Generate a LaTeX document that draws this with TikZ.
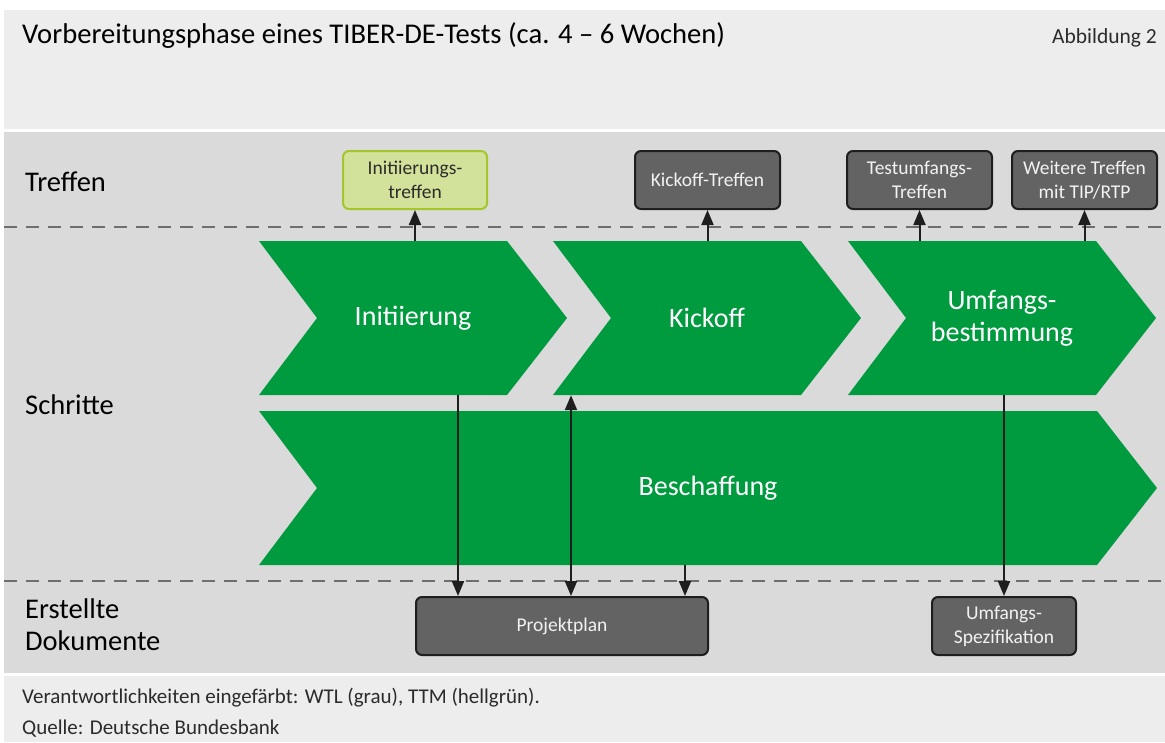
\documentclass[tikz,border=0pt]{standalone}
\usepackage{fontspec}
\setmainfont{Carlito}
\usetikzlibrary{arrows.meta}
\definecolor{hdrgray}{HTML}{EDEDED}
\definecolor{maingray}{HTML}{DADADA}
\definecolor{dashgray}{HTML}{6E6E6E}
\definecolor{chevgreen}{HTML}{009B3F}
\definecolor{boxdark}{HTML}{636363}
\definecolor{boxline}{HTML}{1E1E1E}
\definecolor{lgfill}{HTML}{D3E29B}
\definecolor{lgline}{HTML}{A3C72B}
\definecolor{txtdark}{HTML}{2B2B2B}
\tikzset{
  chevtext/.style={inner sep=0pt, text=white, align=center,
    font=\fontsize{28}{32}\selectfont},
  darkbox/.style={draw=boxline, fill=boxdark, line width=2pt, rounded corners=6pt,
    text=white!95!black, align=center, inner sep=0pt,
    font=\fontsize{19.5}{24}\selectfont},
  lightbox/.style={draw=lgline, fill=lgfill, line width=2pt, rounded corners=6pt,
    text=txtdark, align=center, inner sep=0pt,
    font=\fontsize{19.5}{24}\selectfont},
  rowlabel/.style={anchor=west, text=black, align=left, inner sep=0pt,
    font=\fontsize{28.5}{32}\selectfont},
  sepline/.style={dashgray, line width=2.6pt, dash pattern=on 13pt off 9pt},
  arr/.style={draw=boxline, line width=2pt, -{Triangle[length=15pt,width=12pt]}},
  arrboth/.style={draw=boxline, line width=2pt, {Triangle[length=15pt,width=12pt]}-{Triangle[length=15pt,width=12pt]}},
}
\begin{document}
\begin{tikzpicture}[x=1pt,y=-1pt]
\useasboundingbox (0,0) rectangle (1165,742);
\fill[white] (0,0) rectangle (1165,742);
\fill[hdrgray] (4,10) rectangle (1165,129);
\fill[maingray] (4,132) rectangle (1165,673);
\fill[hdrgray] (4,676) rectangle (1165,742);

% header
\node[anchor=base west, inner sep=0pt, text=black, font=\fontsize{28.6}{32}\selectfont] (title) at (22,43) {Vorbereitungsphase eines TIBER-DE-Tests (ca. 4 -- 6 Wochen)};
\node[anchor=base east, inner sep=0pt, text=txtdark, font=\fontsize{21.5}{26}\selectfont] (abb) at (1157,43) {Abbildung 2};

% dashed separators
\draw[sepline] (4,227) -- (1165,227);
\draw[sepline] (4,581) -- (1165,581);

% row labels
\node[rowlabel] (lt) at (25,182) {Treffen};
\node[rowlabel] (ls) at (25,405) {Schritte};
\node[rowlabel] (ld) at (25,625) {Erstellte\\Dokumente};

% chevrons
\fill[chevgreen] (259,241) -- (507,241) -- (567,318) -- (507,395) -- (259,395) -- (317,318) -- cycle;
\fill[chevgreen] (553,241) -- (801,241) -- (861,318) -- (801,395) -- (553,395) -- (611,318) -- cycle;
\fill[chevgreen] (848,241) -- (1096,241) -- (1156,318) -- (1096,395) -- (848,395) -- (906,318) -- cycle;
\fill[chevgreen] (259,411) -- (1097,411) -- (1157,488) -- (1097,565) -- (259,565) -- (317,488) -- cycle;

\node[chevtext, minimum width=308pt, minimum height=154pt] (ini) at (413,318) {\raisebox{-2pt}{Initiierung}};
\node[chevtext, minimum width=308pt, minimum height=154pt] (kick) at (707,318) {Kickoff};
\node[chevtext, minimum width=308pt, minimum height=154pt] (umf) at (1002,318) {Umfangs-\\bestimmung};
\node[chevtext, minimum width=898pt, minimum height=154pt] (besch) at (708,488) {\raisebox{-2pt}{Beschaffung}};

% meeting boxes
\node[lightbox, minimum width=144pt, minimum height=58pt] (itr) at (415,180) {Initiierungs-\\treffen};
\node[darkbox, minimum width=145pt, minimum height=58pt] (ktr) at (707.5,180) {Kickoff-Treffen};
\node[darkbox, minimum width=145pt, minimum height=58pt] (ttr) at (919.5,180) {Testumfangs-\\Treffen};
\node[darkbox, minimum width=145pt, minimum height=58pt] (wtr) at (1084.5,180) {Weitere Treffen\\mit TIP/RTP};

% documents
\node[darkbox, minimum width=292pt, minimum height=58pt] (pp) at (562,626) {Projektplan};
\node[darkbox, minimum width=144pt, minimum height=58pt] (spec) at (1004,626) {Umfangs-\\Spezifikation};

% helper coordinates
\coordinate (c1) at (458,600);
\coordinate (c2) at (571,600);
\coordinate (c3) at (685,600);

% arrows up to meetings
\draw[arr] (ini.north -| itr) -- (itr.south);
\draw[arr] (kick.north -| ktr) -- (ktr.south);
\draw[arr] (umf.north -| ttr) -- (ttr.south);
\draw[arr] (umf.north -| wtr) -- (wtr.south);

% arrows down to documents
\draw[arr] (ini.south -| c1) -- (pp.north -| c1);
\draw[arrboth] (pp.north -| c2) -- (kick.south -| c2);
\draw[arr] (besch.south -| c3) -- (pp.north -| c3);
\draw[arr] (umf.south -| spec) -- (spec.north);

% footer
\node[anchor=base west, inner sep=0pt, text=txtdark, font=\fontsize{21}{24}\selectfont] (f1) at (22,703) {Verantwortlichkeiten eingefärbt: WTL (grau), TTM (hellgrün).};
\node[anchor=base west, inner sep=0pt, text=txtdark, font=\fontsize{21}{24}\selectfont] (f2) at (22,734) {Quelle: Deutsche Bundesbank};
\end{tikzpicture}
\end{document}
